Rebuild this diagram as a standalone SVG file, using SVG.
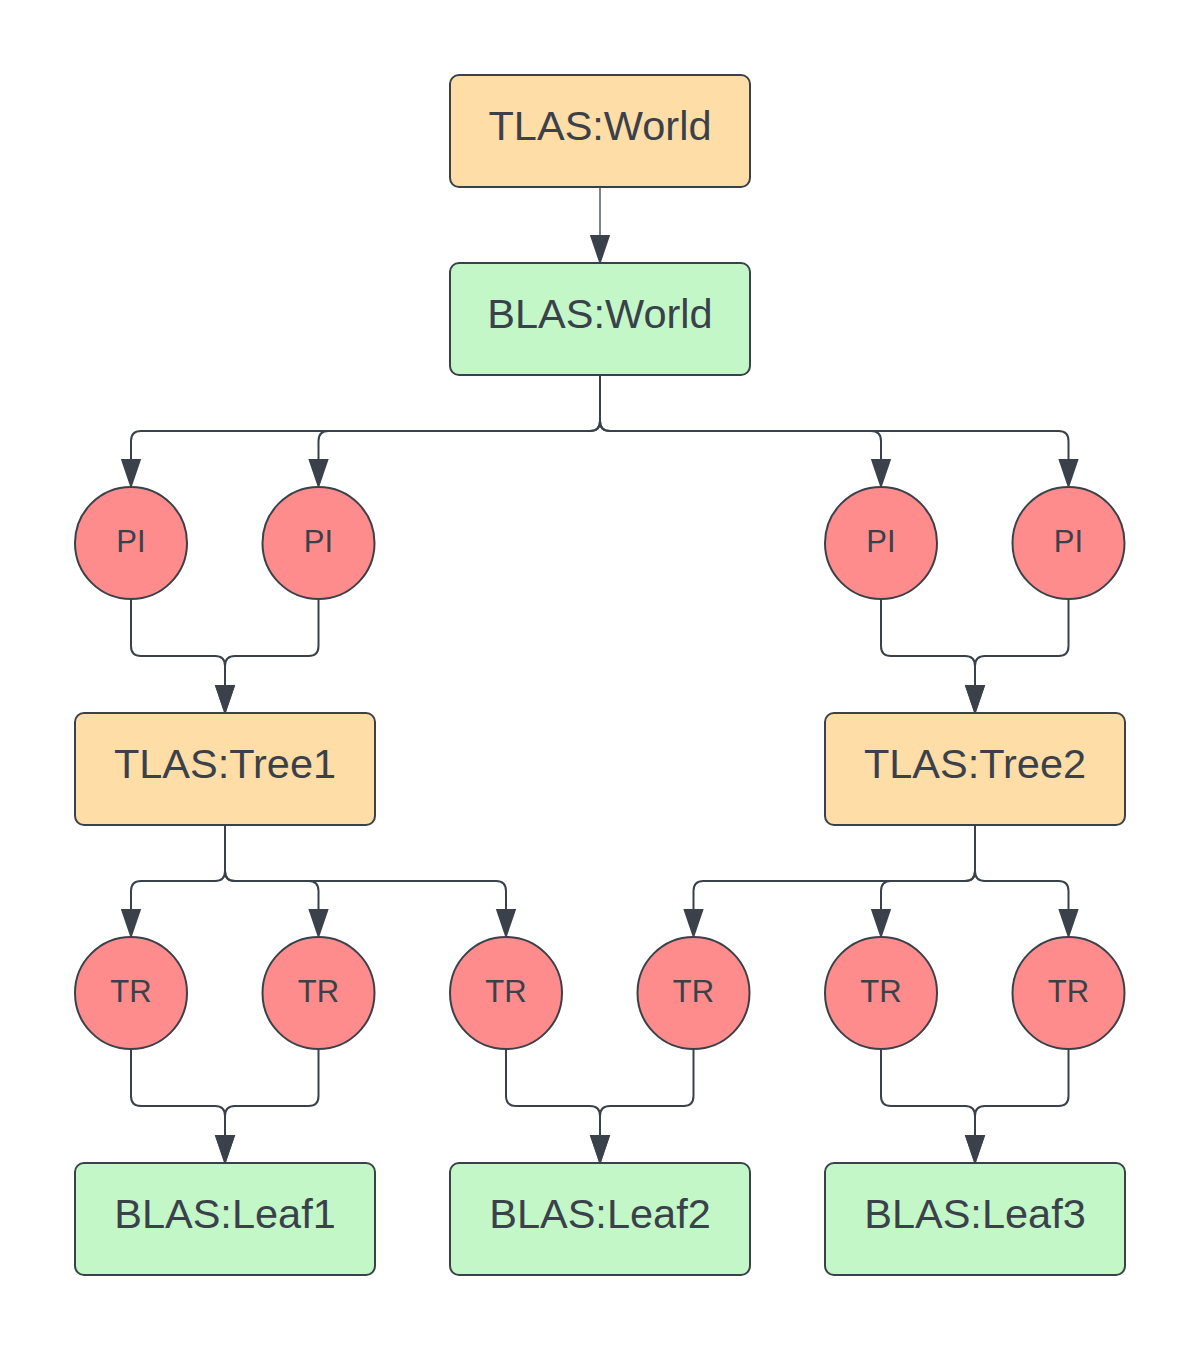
<svg xmlns="http://www.w3.org/2000/svg" width="1200" height="1350" viewBox="0 0 1200 1350">
<style>
.box{stroke:#3a414a;stroke-width:2}
.tl{fill:#ffdda6}
.bl{fill:#c3f7c8}
.c{fill:#ff8c8c;stroke:#3a414a;stroke-width:2}
.bt{font-family:"Liberation Sans",Arial,sans-serif;font-size:41.5px;fill:#3a414a;text-anchor:middle}
.ct{font-family:"Liberation Sans",Arial,sans-serif;font-size:31px;fill:#3a414a;text-anchor:middle}
.e{fill:none;stroke:#3a414a;stroke-width:2;marker-end:url(#ah)}
</style>
<defs>
<marker id="ah" markerUnits="userSpaceOnUse" markerWidth="30" markerHeight="22" refX="0" refY="9.5" orient="auto" viewBox="0 0 28 19">
<path d="M0,0 L28,9.5 L0,19 Z" fill="#3a414a"/>
</marker>
</defs>
<rect width="1200" height="1350" fill="#ffffff"/>
<g id="connectors">
<path class="e" style="stroke-width:1.3" d="M600,187 V235"/>
<path class="e" d="M600,375 V421 Q600,431 590,431 H141 Q131,431 131,441 V459"/>
<path class="e" d="M600,375 V421 Q600,431 590,431 H328.5 Q318.5,431 318.5,441 V459"/>
<path class="e" d="M600,375 V421 Q600,431 610,431 H871 Q881,431 881,441 V459"/>
<path class="e" d="M600,375 V421 Q600,431 610,431 H1058.5 Q1068.5,431 1068.5,441 V459"/>
<path class="e" d="M131,599 V646 Q131,656 141,656 H215 Q225,656 225,666 V685"/>
<path class="e" d="M318.5,599 V646 Q318.5,656 308.5,656 H235 Q225,656 225,666 V685"/>
<path class="e" d="M881,599 V646 Q881,656 891,656 H965 Q975,656 975,666 V685"/>
<path class="e" d="M1068.5,599 V646 Q1068.5,656 1058.5,656 H985 Q975,656 975,666 V685"/>
<path class="e" d="M225,825 V871 Q225,881 215,881 H141 Q131,881 131,891 V909"/>
<path class="e" d="M225,825 V871 Q225,881 235,881 H308.5 Q318.5,881 318.5,891 V909"/>
<path class="e" d="M225,825 V871 Q225,881 235,881 H496 Q506,881 506,891 V909"/>
<path class="e" d="M975,825 V871 Q975,881 965,881 H703.5 Q693.5,881 693.5,891 V909"/>
<path class="e" d="M975,825 V871 Q975,881 965,881 H891 Q881,881 881,891 V909"/>
<path class="e" d="M975,825 V871 Q975,881 985,881 H1058.5 Q1068.5,881 1068.5,891 V909"/>
<path class="e" d="M131,1049 V1096 Q131,1106 141,1106 H215 Q225,1106 225,1116 V1135"/>
<path class="e" d="M318.5,1049 V1096 Q318.5,1106 308.5,1106 H235 Q225,1106 225,1116 V1135"/>
<path class="e" d="M506,1049 V1096 Q506,1106 516,1106 H590 Q600,1106 600,1116 V1135"/>
<path class="e" d="M693.5,1049 V1096 Q693.5,1106 683.5,1106 H610 Q600,1106 600,1116 V1135"/>
<path class="e" d="M881,1049 V1096 Q881,1106 891,1106 H965 Q975,1106 975,1116 V1135"/>
<path class="e" d="M1068.5,1049 V1096 Q1068.5,1106 1058.5,1106 H985 Q975,1106 975,1116 V1135"/>
</g>
<g id="tlas-world"><rect class="box tl" x="450" y="75" width="300" height="112" rx="9"/><text class="bt" x="600" y="140">TLAS:World</text></g>
<g id="blas-world"><rect class="box bl" x="450" y="263" width="300" height="112" rx="9"/><text class="bt" x="600" y="328">BLAS:World</text></g>
<g id="pi1"><circle class="c" cx="131" cy="543" r="56"/><text class="ct" x="131" y="552">PI</text></g>
<g id="pi2"><circle class="c" cx="318.5" cy="543" r="56"/><text class="ct" x="318.5" y="552">PI</text></g>
<g id="pi3"><circle class="c" cx="881" cy="543" r="56"/><text class="ct" x="881" y="552">PI</text></g>
<g id="pi4"><circle class="c" cx="1068.5" cy="543" r="56"/><text class="ct" x="1068.5" y="552">PI</text></g>
<g id="tlas-tree1"><rect class="box tl" x="75" y="713" width="300" height="112" rx="9"/><text class="bt" x="225" y="778">TLAS:Tree1</text></g>
<g id="tlas-tree2"><rect class="box tl" x="825" y="713" width="300" height="112" rx="9"/><text class="bt" x="975" y="778">TLAS:Tree2</text></g>
<g id="tr1"><circle class="c" cx="131" cy="993" r="56"/><text class="ct" x="131" y="1002">TR</text></g>
<g id="tr2"><circle class="c" cx="318.5" cy="993" r="56"/><text class="ct" x="318.5" y="1002">TR</text></g>
<g id="tr3"><circle class="c" cx="506" cy="993" r="56"/><text class="ct" x="506" y="1002">TR</text></g>
<g id="tr4"><circle class="c" cx="693.5" cy="993" r="56"/><text class="ct" x="693.5" y="1002">TR</text></g>
<g id="tr5"><circle class="c" cx="881" cy="993" r="56"/><text class="ct" x="881" y="1002">TR</text></g>
<g id="tr6"><circle class="c" cx="1068.5" cy="993" r="56"/><text class="ct" x="1068.5" y="1002">TR</text></g>
<g id="blas-leaf1"><rect class="box bl" x="75" y="1163" width="300" height="112" rx="9"/><text class="bt" x="225" y="1228">BLAS:Leaf1</text></g>
<g id="blas-leaf2"><rect class="box bl" x="450" y="1163" width="300" height="112" rx="9"/><text class="bt" x="600" y="1228">BLAS:Leaf2</text></g>
<g id="blas-leaf3"><rect class="box bl" x="825" y="1163" width="300" height="112" rx="9"/><text class="bt" x="975" y="1228">BLAS:Leaf3</text></g>
</svg>
